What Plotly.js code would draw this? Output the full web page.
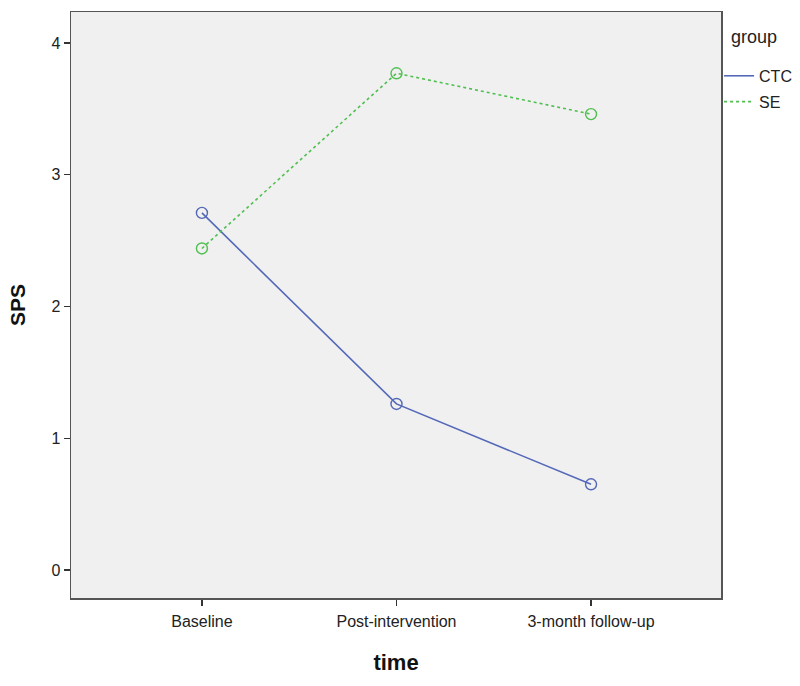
<!DOCTYPE html>
<html>
<head>
<meta charset="utf-8">
<script src="https://cdn.plot.ly/plotly-3.0.1.min.js"></script>
<style>html,body{margin:0;padding:0;background:#fff;}</style>
</head>
<body>
<div id="chart" style="width:800px;height:686px;"></div>
<script>
var categories = ["Baseline", "Post-intervention", "3-month follow-up"];
var ctcValues = [2.71, 1.26, 0.65];
var seValues = [2.44, 3.77, 3.46];
var yTicks = [0, 1, 2, 3, 4];
var groupNames = ["CTC", "SE"];
var colors = ["#5468b8", "#4fbf4f"];
var dashes = ["solid", "dot"];

var traces = [
  {
    x: categories, y: ctcValues, name: groupNames[0], type: "scatter", mode: "lines+markers",
    showlegend: false,
    line: {color: colors[0], width: 1.6, dash: dashes[0]},
    marker: {symbol: "circle-open", size: 11, color: colors[0], line: {width: 1.4}}
  },
  {
    x: categories, y: seValues, name: groupNames[1], type: "scatter", mode: "lines+markers",
    showlegend: false,
    line: {color: colors[1], width: 1.6, dash: dashes[1]},
    marker: {symbol: "circle-open", size: 11, color: colors[1], line: {width: 1.4}}
  },
  {
    x: [null], y: [null], name: groupNames[0], type: "scatter", mode: "lines",
    legendgroup: "a", line: {color: colors[0], width: 1.6, dash: dashes[0]}
  },
  {
    x: [null], y: [null], name: groupNames[1], type: "scatter", mode: "lines",
    legendgroup: "b", line: {color: colors[1], width: 1.6, dash: dashes[1]}
  }
];

var layout = {
  width: 800, height: 686,
  margin: {l: 71, r: 79, t: 12, b: 88, autoexpand: false},
  paper_bgcolor: "#ffffff",
  plot_bgcolor: "#f0f0f0",
  font: {family: "Liberation Sans, Arial, sans-serif", size: 16, color: "#222"},
  showlegend: true,
  legend: {
    x: 0.997, y: 0.92, xanchor: "left", yanchor: "top",
    font: {size: 16, color: "#222"},
    bgcolor: "rgba(0,0,0,0)", itemwidth: 30, tracegroupgap: 2
  },
  annotations: [{
    text: "group", xref: "paper", yref: "paper", x: 1.012, y: 0.958,
    xanchor: "left", yanchor: "middle", showarrow: false,
    font: {size: 18, color: "#222"}
  }],
  xaxis: {
    type: "category",
    range: [-0.673, 2.668],
    showgrid: false, zeroline: false,
    showline: true, linecolor: "#555", linewidth: 1.5, mirror: true,
    ticks: "outside", ticklen: 6, tickcolor: "#333", tickwidth: 1.3,
    ticklabelstandoff: 2,
    tickfont: {size: 16, color: "#222"},
    title: {text: "time", font: {size: 22, color: "#111", weight: "bold"}, standoff: 26}
  },
  yaxis: {
    range: [-0.213, 4.235],
    tickvals: yTicks, ticktext: yTicks.map(String),
    showgrid: false, zeroline: false,
    showline: true, linecolor: "#555", linewidth: 1.5, mirror: true,
    ticks: "outside", ticklen: 6, tickcolor: "#333", tickwidth: 1.3,
    tickfont: {size: 16, color: "#222"},
    title: {text: "SPS", font: {size: 21, color: "#111", weight: "bold"}, standoff: 20}
  }
};

Plotly.newPlot("chart", traces, layout, {displayModeBar: false, staticPlot: true});
</script>
</body>
</html>
